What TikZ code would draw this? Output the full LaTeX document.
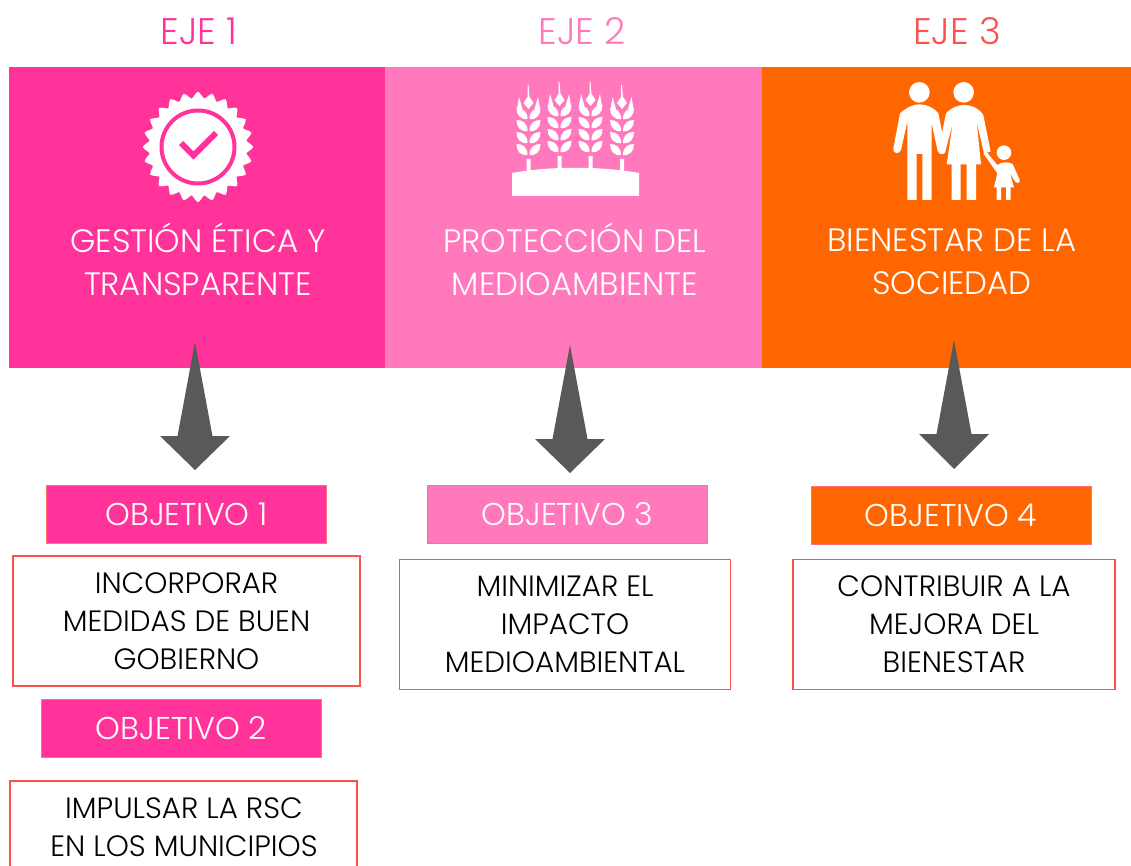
\documentclass[tikz,border=0pt]{standalone}
\usepackage{fontspec}
\setmainfont{Poppins Light}
\usetikzlibrary{calc}
\definecolor{magenta1}{HTML}{FF3399}
\definecolor{rosa}{HTML}{FF79BC}
\definecolor{naranja}{HTML}{FF6600}
\definecolor{rojo}{HTML}{FF5050}
\definecolor{gris}{HTML}{595959}
\tikzstyle{panel}=[anchor=north west,minimum width=376.5,minimum height=301,inner sep=0]
\tikzstyle{obj}=[draw=rojo!80,line width=.8,minimum width=280,minimum height=58,inner sep=0,text=white,font=\fontsize{31.5}{34}\selectfont]
\tikzstyle{caja}=[draw=rojo,line width=1.1,fill=white,inner sep=0,align=center,text=black,font=\fontsize{29.4}{38}\selectfont]
\tikzstyle{paneltext}=[align=center,text=white,font=\fontsize{32.4}{43}\selectfont]
\tikzstyle{eje}=[font=\fontsize{37}{40}\selectfont]
\def\flecha#1#2{
  \fill[gris] (#1) -- ($(#1)+(17.5,94)$) -- ($(#1)+(35,94)$) -- (#2) -- ($(#1)+(-35,94)$) -- ($(#1)+(-17.5,94)$) -- cycle;
}
\def\hoja#1{
  \fill[white] (-1,#1) .. controls (-8,#1+1) and (-12,#1-4) .. (-12,#1-11)
    .. controls (-6,#1-11) and (-1,#1-8) .. cycle;
  \fill[white] (1,#1) .. controls (8,#1+1) and (12,#1-4) .. (12,#1-11)
    .. controls (6,#1-11) and (1,#1-8) .. cycle;
}
\begin{document}
\begin{tikzpicture}[x=1pt,y=-1pt]
  \useasboundingbox (0,0) rectangle (1131,866);
  % PANELS
  \node[panel,fill=magenta1] (P1) at (9,67) {};
  \node[panel,fill=rosa] (P2) at (385,67) {};
  \node[panel,fill=naranja,minimum width=369.5] (P3) at (761.5,67) {};
  % TITLES
  \node[eje,text=magenta1] (E1) at (199,31) {EJE 1};
  \node[eje,text=rosa] (E2) at (582,31) {EJE 2};
  \node[eje,text=rojo] (E3) at (957,31) {EJE 3};
  \node[paneltext] (T1) at (198,259) {GESTIÓN ÉTICA Y\\TRANSPARENTE};
  \node[paneltext] (T2) at (575,259) {PROTECCIÓN DEL\\MEDIOAMBIENTE};
  \node[paneltext] (T3) at (952,262) {BIENESTAR DE LA\\SOCIEDAD};
  % SEAL
  \fill[white] plot[smooth cycle,samples=96,domain=0:356.25,variable=\t]
    ({198+(52+3.2*cos(24*\t))*cos(\t)},{147+(52+3.2*cos(24*\t))*sin(\t)});
  \draw[magenta1,line width=4] (198,147) circle (36.5);
  \draw[magenta1,line width=6] (181,143) -- (193.5,155.5) -- (216,133);
  % WHEAT
  \foreach \x/\y in {528.5/0,559.5/-3,590.5/-3,622/0}{
    \begin{scope}[shift={(\x,\y)}]
      \fill[white] (-1,85) -- (0,85) -- (1,97) -- (5,103) -- (0,109) -- (-5,103) -- (-1,97) -- cycle;
      \fill[white] (-9.5,97) -- (-11.5,109) -- (-6,109) -- cycle (9.5,97) -- (11.5,109) -- (6,109) -- cycle;
      \foreach \v in {119,131,143,155}{
        \hoja{\v}
      }
    \end{scope}
  }
  \fill[white] (526.5,159) rectangle (530.5,172) (557.5,156) rectangle (561.5,170)
    (588.5,156) rectangle (592.5,170) (620,159) rectangle (624,172);
  \fill[white] (512,173) .. controls (550,166) and (600,166) .. (639,173) -- (639,196) -- (512,196) -- cycle;
  % FAMILY
  \begin{scope}[shift={(870,70)},x=1pt/3,y=-1pt/3,white]
    \fill (148,67) circle (10.3pt) (281,67) circle (10.3pt) (402,248) circle (7.3pt);
    \fill (90,130) .. controls (110,112) and (130,103) .. (148,103) .. controls (170,103) and (190,112) .. (205,130)
      -- (227,240) .. controls (229,255) and (207,258) .. (203,243) -- (185,160) -- (185,390) -- (157,390)
      -- (157,252) -- (140,252) -- (140,390) -- (112,390) -- (112,155) -- (93,240)
      .. controls (88,255) and (66,250) .. (70,235) -- cycle;
    \fill (228,130) .. controls (245,112) and (265,105) .. (281,105) .. controls (300,105) and (325,112) .. (340,135)
      -- (362,245) -- (342,250) -- (320,155) -- (333,283) -- (318,283) -- (318,390) -- (290,390)
      -- (290,283) -- (272,283) -- (272,390) -- (245,390) -- (245,283) -- (230,283) -- (248,160)
      -- (226,245) -- (214,200) -- cycle;
    \fill (340,250) -- (347,243) -- (382,285) .. controls (395,275) and (415,275) .. (428,282) -- (449,330)
      .. controls (450,340) and (440,342) .. (436,336) -- (420,310) -- (432,352) -- (422,352) -- (422,390)
      -- (408,390) -- (408,352) -- (393,352) -- (393,390) -- (380,390) -- (380,352) -- (372,352) -- (382,310) -- cycle;
  \end{scope}
  % ARROWS
  \coordinate (A1) at (195,342);
  \coordinate (B1) at (195,470);
  \coordinate (A3) at (570,345);
  \coordinate (B3) at (570,473);
  \coordinate (A4) at (954,340);
  \coordinate (B4) at (954,469);
  \flecha{A1}{B1}
  \flecha{A3}{B3}
  \flecha{A4}{B4}
  % OBJECTIVES
  \node[obj,fill=magenta1] (O1) at (186.5,514) {OBJETIVO 1};
  \node[obj,fill=rosa] (O3) at (567.5,514) {OBJETIVO 3};
  \node[obj,fill=naranja] (O4) at (951,515.5) {OBJETIVO 4};
  \node[obj,fill=magenta1] (O2) at (181.5,728) {OBJETIVO 2};
  \node[caja,minimum width=347,minimum height=130] (C1) at (186.5,621) {INCORPORAR\\MEDIDAS DE BUEN\\GOBIERNO};
  \node[caja,minimum width=331,minimum height=130] (C3) at (565,624.5) {MINIMIZAR EL\\IMPACTO\\MEDIOAMBIENTAL};
  \node[caja,minimum width=322,minimum height=130] (C4) at (954,624.5) {CONTRIBUIR A LA\\MEJORA DEL\\BIENESTAR};
  \draw[rojo,line width=1.1] (10,866) |- (357,781) -- (357,866);
  \node[align=center,font=\fontsize{29.4}{38}\selectfont,anchor=north] (C2) at (184,794) {IMPULSAR LA RSC\\EN LOS MUNICIPIOS};
\end{tikzpicture}
\end{document}
